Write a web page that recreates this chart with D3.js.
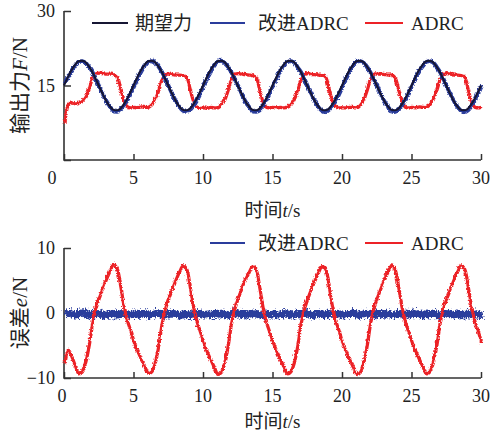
<!DOCTYPE html>
<html>
<head>
<meta charset="utf-8">
<script src="https://cdn.jsdelivr.net/npm/d3@7"></script>
<style>
  html, body { margin: 0; padding: 0; background: #fff; }
  svg { display: block; }
  text { font-family: "Liberation Serif", "Noto Sans CJK SC", serif; fill: #222; }
</style>
</head>
<body>
<svg id="chart" width="493" height="435"></svg>
<script>
// ---------------- data ----------------
const timeStep = 0.25; // seconds between samples, t = 0 … 30 s
const xTicks = [0, 5, 10, 15, 20, 25, 30];
const forceTicks = [0, 15, 30];
const errorTicks = [-10, 0, 10];
const legendTop = ["期望力", "改进ADRC", "ADRC"];
const legendBottom = ["改进ADRC", "ADRC"];

// desired force 期望力 (N)
const desiredForce = [
  15.0, 16.5, 17.9, 19.0, 19.8, 20.0, 19.8, 19.0, 17.9, 16.5, 15.0, 13.5, 12.1, 11.0, 10.2, 10.0, 10.2, 11.0, 12.1, 13.5,
  15.0, 16.5, 17.9, 19.0, 19.8, 20.0, 19.8, 19.0, 17.9, 16.5, 15.0, 13.5, 12.1, 11.0, 10.2, 10.0, 10.2, 11.0, 12.1, 13.5,
  15.0, 16.5, 17.9, 19.0, 19.8, 20.0, 19.8, 19.0, 17.9, 16.5, 15.0, 13.5, 12.1, 11.0, 10.2, 10.0, 10.2, 11.0, 12.1, 13.5,
  15.0, 16.5, 17.9, 19.0, 19.8, 20.0, 19.8, 19.0, 17.9, 16.5, 15.0, 13.5, 12.1, 11.0, 10.2, 10.0, 10.2, 11.0, 12.1, 13.5,
  15.0, 16.5, 17.9, 19.0, 19.8, 20.0, 19.8, 19.0, 17.9, 16.5, 15.0, 13.5, 12.1, 11.0, 10.2, 10.0, 10.2, 11.0, 12.1, 13.5,
  15.0, 16.5, 17.9, 19.0, 19.8, 20.0, 19.8, 19.0, 17.9, 16.5, 15.0, 13.5, 12.1, 11.0, 10.2, 10.0, 10.2, 11.0, 12.1, 13.5,
  15.0
];

// improved ADRC output force 改进ADRC (N)
const improvedForce = [
  15.6, 16.8, 18.1, 19.2, 19.9, 20.1, 19.7, 18.9, 17.8, 16.3, 14.8, 13.3, 12.0, 10.9, 10.1, 9.9, 10.3, 11.1, 12.3, 13.7,
  15.2, 16.7, 18.1, 19.1, 19.9, 20.1, 19.8, 18.9, 17.8, 16.4, 14.8, 13.3, 11.9, 10.8, 10.1, 9.9, 10.3, 11.1, 12.2, 13.6,
  15.1, 16.7, 18.0, 19.2, 19.9, 20.2, 19.7, 18.9, 17.7, 16.3, 14.9, 13.3, 11.9, 10.9, 10.1, 9.9, 10.2, 11.1, 12.3, 13.7,
  15.2, 16.6, 18.1, 19.1, 19.9, 20.1, 19.8, 18.8, 17.8, 16.4, 14.8, 13.4, 12.0, 10.8, 10.1, 9.8, 10.3, 11.1, 12.2, 13.6,
  15.1, 16.7, 18.0, 19.2, 20.0, 20.1, 19.7, 18.9, 17.7, 16.3, 14.9, 13.3, 11.9, 10.9, 10.0, 9.9, 10.3, 11.2, 12.3, 13.6,
  15.2, 16.7, 18.1, 19.1, 19.9, 20.1, 19.8, 18.9, 17.8, 16.4, 14.8, 13.3, 12.0, 10.9, 10.1, 9.8, 10.2, 11.1, 12.2, 13.7,
  15.2
];

// ADRC output force (N)
const adrcForce = [
  7.5, 11.3, 11.7, 11.5, 11.6, 12.0, 12.8, 14.5, 16.8, 17.6, 17.7, 17.6, 17.5, 17.5, 17.4, 17.0, 14.6, 12.1, 10.9, 10.7,
  10.8, 10.7, 10.9, 10.8, 10.8, 11.3, 12.4, 14.2, 16.4, 17.4, 17.5, 17.4, 17.3, 17.3, 17.2, 16.9, 14.5, 12.0, 10.8, 10.6,
  10.7, 10.6, 10.8, 10.7, 10.7, 11.2, 12.3, 14.3, 16.5, 17.5, 17.6, 17.5, 17.4, 17.3, 17.2, 16.8, 14.4, 11.9, 10.8, 10.7,
  10.8, 10.7, 10.8, 10.7, 10.8, 11.3, 12.4, 14.2, 16.4, 17.4, 17.6, 17.4, 17.4, 17.3, 17.2, 16.9, 14.5, 12.0, 10.9, 10.7,
  10.7, 10.7, 10.8, 10.8, 10.7, 11.2, 12.3, 14.3, 16.5, 17.5, 17.5, 17.5, 17.4, 17.3, 17.3, 16.8, 14.4, 12.0, 10.8, 10.7,
  10.8, 10.7, 10.9, 10.8, 10.8, 11.3, 12.4, 14.2, 16.4, 17.4, 17.6, 17.5, 17.3, 17.3, 17.2, 16.9, 14.5, 11.9, 10.8, 10.7,
  10.8
];

// improved ADRC error 改进ADRC (N)
const improvedError = [
  0.0, 0.2, 0.1, -0.1, 0.2, 0.3, 0.1, -0.1, 0.0, 0.2, 0.1, -0.2, 0.0, 0.1, -0.1, 0.0, 0.2, 0.1, 0.0, -0.1,
  0.1, 0.0, 0.2, 0.1, -0.1, 0.0, 0.2, 0.1, -0.1, 0.0, 0.1, 0.2, 0.0, -0.1, 0.1, 0.0, -0.2, 0.1, 0.0, 0.1,
  0.0, 0.1, -0.1, 0.2, 0.0, 0.1, 0.0, -0.1, 0.1, 0.2, 0.0, 0.1, -0.1, 0.0, 0.1, 0.2, 0.0, -0.1, 0.1, 0.0,
  0.1, -0.1, 0.0, 0.2, 0.1, 0.0, -0.1, 0.1, 0.0, 0.2, 0.1, -0.1, 0.0, 0.1, 0.0, -0.1, 0.2, 0.1, 0.0, 0.1,
  -0.1, 0.0, 0.1, 0.2, 0.0, -0.1, 0.1, 0.0, 0.1, -0.1, 0.2, 0.1, 0.0, 0.1, -0.1, 0.0, 0.2, 0.0, 0.1, 0.0,
  0.1, 0.2, 0.0, -0.1, 0.1, 0.0, 0.1, -0.1, 0.0, 0.1, 0.2, 0.0, -0.1, 0.1, 0.0, -0.1, 0.1, 0.0, 0.1, -0.1,
  0.0
];

// ADRC error (N)
const adrcError = [
  -7.7, -5.6, -6.6, -8.0, -9.2, -8.9, -7.4, -4.8, -1.4, 1.0, 2.6, 4.0, 5.4, 6.6, 7.6, 7.0, 4.4, 1.2, -1.1, -2.7,
  -4.5, -5.8, -7.0, -8.1, -9.1, -8.9, -7.5, -4.9, -1.4, 0.9, 2.5, 3.9, 5.3, 6.5, 7.4, 6.9, 4.3, 1.1, -1.2, -2.8,
  -4.4, -5.9, -7.1, -8.2, -9.3, -9.0, -7.6, -4.8, -1.3, 1.0, 2.6, 4.0, 5.3, 6.4, 7.3, 6.8, 4.2, 1.0, -1.3, -2.9,
  -4.5, -5.8, -7.0, -8.1, -9.2, -8.9, -7.5, -4.9, -1.4, 0.9, 2.5, 3.9, 5.2, 6.4, 7.3, 6.9, 4.3, 1.1, -1.2, -2.8,
  -4.6, -5.9, -7.1, -8.2, -9.3, -9.0, -7.5, -4.8, -1.3, 1.0, 2.6, 4.0, 5.3, 6.5, 7.4, 6.8, 4.2, 1.0, -1.3, -2.9,
  -4.5, -5.8, -7.0, -8.1, -9.2, -8.9, -7.5, -4.9, -1.4, 0.9, 2.5, 3.9, 5.3, 6.5, 7.4, 6.9, 4.3, 1.1, -1.2, -2.8,
  -4.6
];

// ---------------- drawing ----------------
const COLORS = { desired: "#161633", improved: "#2a3c9c", adrc: "#ec2227", axis: "#333" };
const svg = d3.select("#chart");

// jitter filters (visual texture for the noisy measured signals)
const defs = svg.append("defs");
function jitter(id, scale, fx, fy) {
  const f = defs.append("filter").attr("id", id)
    .attr("filterUnits", "userSpaceOnUse")
    .attr("x", 0).attr("y", 0).attr("width", 493).attr("height", 435);
  f.append("feTurbulence").attr("type", "turbulence")
    .attr("baseFrequency", fx + " " + fy).attr("numOctaves", 2).attr("seed", 3).attr("result", "n");
  f.append("feDisplacementMap").attr("in", "SourceGraphic").attr("in2", "n")
    .attr("scale", scale).attr("xChannelSelector", "R").attr("yChannelSelector", "G");
}
jitter("jit", 3, 0.9, 0.35);
jitter("jitBand", 6, 0.8, 0.3);

const x = d3.scaleLinear().domain([0, 30]).range([64, 481]);
const yTop = d3.scaleLinear().domain([0, 30]).range([160, 11]);
const yBot = d3.scaleLinear().domain([-10, 10]).range([378, 248]);

function drawAxes(y, yTicksArr, xZeroLabelX, titleOffset, yLabelParts) {
  const [y0, y1] = y.range();
  const g = svg.append("g");
  const ya = d3.axisRight(y).tickValues(yTicksArr).tickSize(7).tickFormat("");
  g.append("g").attr("transform", `translate(${x(0)},0)`).call(ya)
    .call(s => s.select(".domain").remove())
    .call(s => s.selectAll("line").attr("stroke", COLORS.axis).attr("stroke-width", 1.5));
  const xa = d3.axisTop(x).tickValues(xTicks).tickSize(6).tickFormat("");
  g.append("g").attr("transform", `translate(0,${y0})`).call(xa)
    .call(s => s.select(".domain").remove())
    .call(s => s.selectAll("line").attr("stroke", COLORS.axis).attr("stroke-width", 1.5));
  g.append("path")
    .attr("d", `M${x(0)},${y1}V${y0}H${x(30)}`)
    .attr("fill", "none").attr("stroke", COLORS.axis).attr("stroke-width", 1.6);
  yTicksArr.filter(v => y(v) < y0 - 1 || yTicksArr[0] < 0).forEach(v => {
    g.append("text").attr("x", 55).attr("y", y(v)).attr("dy", "0.35em")
      .attr("text-anchor", "end").attr("font-size", 18)
      .text(v < 0 ? "\u2212" + Math.abs(v) : v);
  });
  xTicks.forEach(v => {
    g.append("text").attr("x", v === 0 ? xZeroLabelX : x(v)).attr("y", y0 + 18).attr("dy", "0.35em")
      .attr("text-anchor", "middle").attr("font-size", 18).text(v);
  });
  const xt = g.append("text").attr("x", (x(0) + x(30)) / 2).attr("y", y0 + titleOffset).attr("dy", "0.35em")
    .attr("text-anchor", "middle").attr("font-size", 19);
  xt.append("tspan").text("时间");
  xt.append("tspan").attr("font-style", "italic").text("t");
  xt.append("tspan").text("/s");
  const yt = g.append("text")
    .attr("transform", `translate(20,${(y0 + y1) / 2}) rotate(-90)`)
    .attr("dy", "0.35em").attr("text-anchor", "middle").attr("font-size", 21);
  yLabelParts.forEach(p => {
    const ts = yt.append("tspan").text(p.t);
    if (p.i) ts.attr("font-style", "italic");
  });
}

function series(values) {
  return values.map((v, i) => ({ t: i * timeStep, v }));
}
function drawLine(values, y, color, width, filter) {
  const line = d3.line().x(d => x(d.t)).y(d => y(d.v)).curve(d3.curveCatmullRom.alpha(0.5));
  const p = svg.append("path").datum(series(values))
    .attr("d", line).attr("fill", "none").attr("stroke", color)
    .attr("stroke-width", width).attr("stroke-linejoin", "round");
  if (filter) p.attr("filter", `url(#${filter})`);
  return p;
}

function drawLegend(yPos, items) {
  items.forEach(it => {
    svg.append("line").attr("x1", it.x1).attr("x2", it.x2).attr("y1", yPos).attr("y2", yPos)
      .attr("stroke", it.color).attr("stroke-width", 1.8);
    svg.append("text").attr("x", it.tx).attr("y", yPos).attr("dy", "0.35em")
      .attr("font-size", 19).text(it.label);
  });
}

// ---- top panel: output force ----
drawAxes(yTop, forceTicks, 52, 50, [{ t: "输出力" }, { t: "F", i: true }, { t: "/N" }]);
drawLine(adrcForce, yTop, COLORS.adrc, 3.2, "jit");
drawLine(improvedForce, yTop, COLORS.improved, 4.0, "jit");
drawLine(desiredForce, yTop, COLORS.desired, 2.0, null);
drawLegend(23, [
  { x1: 92, x2: 128, tx: 135, color: COLORS.desired, label: legendTop[0] },
  { x1: 210, x2: 245, tx: 258, color: COLORS.improved, label: legendTop[1] },
  { x1: 365, x2: 403, tx: 411, color: COLORS.adrc, label: legendTop[2] }
]);

// ---- bottom panel: error ----
drawAxes(yBot, errorTicks, 62, 43, [{ t: "误差" }, { t: "e", i: true }, { t: "/N" }]);
drawLine(improvedError, yBot, COLORS.improved, 7.5, "jitBand");
drawLine(adrcError, yBot, COLORS.adrc, 3.2, "jit");
drawLegend(243, [
  { x1: 210, x2: 245, tx: 258, color: COLORS.improved, label: legendBottom[0] },
  { x1: 365, x2: 403, tx: 411, color: COLORS.adrc, label: legendBottom[1] }
]);
</script>
</body>
</html>
